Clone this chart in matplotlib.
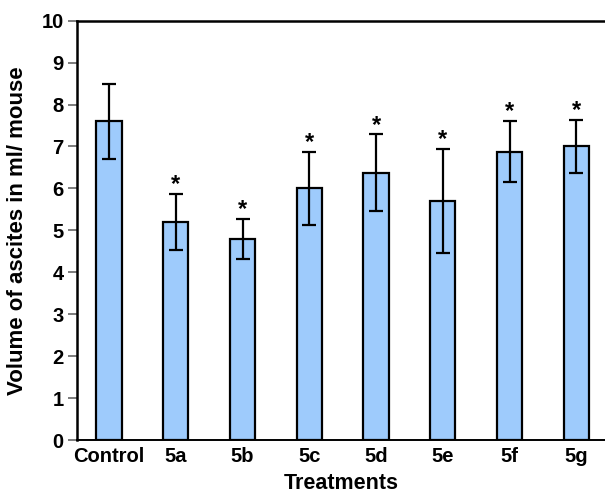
import matplotlib
matplotlib.use("Agg")
import matplotlib.pyplot as plt
import numpy as np

categories = ["Control", "5a", "5b", "5c", "5d", "5e", "5f", "5g"]
values = [7.6, 5.2, 4.8, 6.0, 6.37, 5.7, 6.88, 7.0]
errors = [0.9, 0.67, 0.48, 0.87, 0.92, 1.25, 0.73, 0.63]
significant = [False, True, True, True, True, True, True, True]

plt.rcParams['font.family'] = ['Liberation Sans', 'DejaVu Sans']
plt.rcParams['font.weight'] = 'bold'

fig = plt.figure(figsize=(6.05, 4.96), dpi=100)
ax = fig.add_axes([77/605, 1 - 440/496, 1 - 77/605, (440 - 20.7)/496])

x = np.arange(len(categories))
ax.bar(x, values, width=0.38, color='#9ecbfc', edgecolor='black', linewidth=1.6,
       yerr=errors, error_kw=dict(ecolor='black', elinewidth=1.6, capsize=5, capthick=1.6),
       zorder=2)
for xi, v, e, s in zip(x, values, errors, significant):
    if s:
        ax.annotate("*", xy=(xi, v + e), xytext=(0, 2), textcoords='offset points',
                    ha='center', va='baseline', fontsize=17, fontweight='bold')

ax.set_xlim(-0.48, 7.43)
ax.set_ylim(0, 10)
ax.set_yticks(range(0, 11))
ax.set_xticks(x)
ax.set_xticklabels(categories, fontsize=14.5, fontweight='bold')
ax.tick_params(axis='x', length=0, pad=5)
ax.tick_params(axis='y', length=6.5, width=1.2, color='#666666', labelsize=14.5, pad=3)
for lbl in ax.get_yticklabels():
    lbl.set_fontweight('bold')
ax.spines['right'].set_visible(False)
ax.spines['top'].set_linewidth(1.8)
ax.spines['left'].set_linewidth(1.8)
ax.spines['bottom'].set_linewidth(1.4)
ax.set_xlabel("Treatments", fontsize=15.5, fontweight='bold', labelpad=5)
ax.set_ylabel("Volume of ascites in ml/ mouse", fontsize=16, fontweight='bold', labelpad=10)

fig.savefig("out.png", dpi=100)
